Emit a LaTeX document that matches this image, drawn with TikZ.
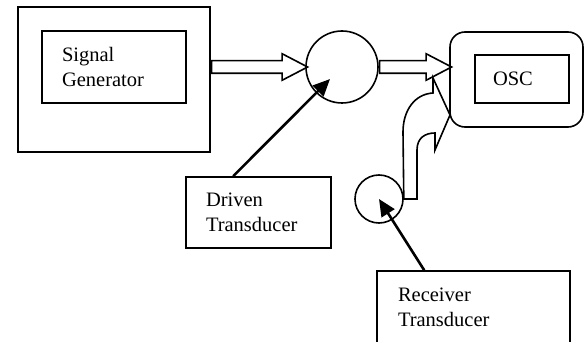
\documentclass[tikz,border=0pt]{standalone}
\usepackage{fontspec}
\setmainfont{Liberation Serif}
\usetikzlibrary{shapes.arrows,arrows.meta}

\begin{document}
\begin{tikzpicture}[x=1pt,y=-1pt,line width=1.6pt,every node/.style={font=\fontsize{20.5}{25}\selectfont},box/.style={draw,rectangle,inner ysep=0pt,align=left},ring/.style={draw,circle,inner sep=0pt},pointer/.style={line width=2.6pt,-{Triangle[length=17pt,width=15pt]}},hollow/.style={draw,single arrow,inner xsep=0pt,inner ysep=5.5pt,text height=0pt,text depth=0pt,single arrow head extend=7pt,single arrow tip angle=55}]
\useasboundingbox (0,0) rectangle (584,342);
\node[box,minimum width=192pt,minimum height=145pt] (outer) at (114,79.5) {};
\node[box,minimum width=144pt,minimum height=72pt,text width=104pt,inner xsep=20pt] (gen) at (114,67) {Signal\\Generator};
\node[ring,minimum size=72pt] (drv) at (342,67) {};
\node[box,rounded corners=15pt,minimum width=133pt,minimum height=95pt] (frame) at (516.5,79.5) {};
\node[box,minimum width=94pt,minimum height=48pt,text width=58pt,inner xsep=18pt] (osc) at (522,79) {OSC};
\node[ring,minimum size=48pt] (rcv) at (379,199) {};
\node[box,minimum width=145pt,minimum height=71pt,text width=105pt,inner xsep=20pt] (drvtext) at (258.5,212.5) {Driven\\Transducer};
\node[box,minimum width=193pt,minimum height=72pt,text width=151pt,inner xsep=21pt] (rcvtext) at (473.5,307) {Receiver\\Transducer};
% hollow arrows
\node[hollow,minimum height=96pt,anchor=tail] (a1) at (outer.east |- drv.center) {};
\node[hollow,minimum height=72pt,anchor=tail] (a2) at (drv.east) {};
\draw (rcv.east) -- (417,199) -- (417,150) .. controls (417,138) and (425,133) .. (435,133) -- (435,150) -- (450,115) -- (433,78) -- (433,93) .. controls (415,94) and (403,110) .. (403,132) -- cycle;
% pointers
\draw[pointer,shorten >=17pt] ([xshift=48pt]drvtext.north west) -- (drv.center);
\draw[pointer] ([xshift=48pt]rcvtext.north west) -- (rcv.center);
\end{tikzpicture}
\end{document}
